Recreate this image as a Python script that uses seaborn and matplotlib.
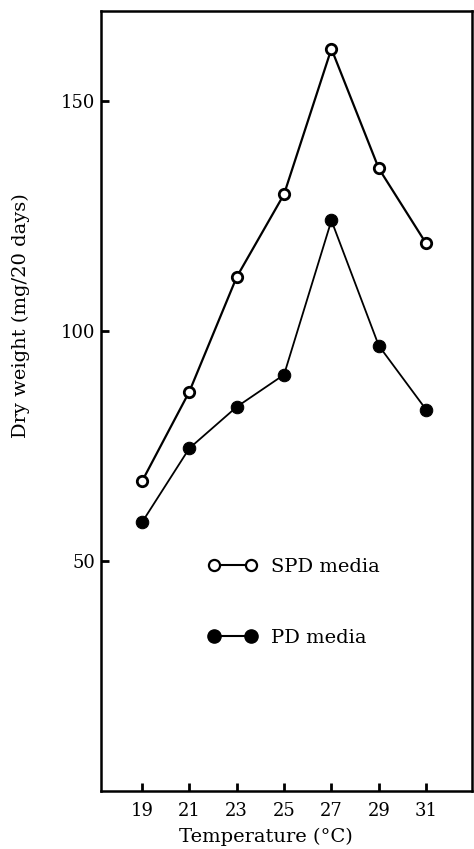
import matplotlib
matplotlib.use("Agg")
import matplotlib.pyplot as plt
import seaborn as sns
import pandas as pd
from matplotlib.lines import Line2D

temperature = [19, 21, 23, 25, 27, 29, 31]
spd_weight = [67.3, 86.8, 111.7, 129.7, 161.3, 135.3, 119.0]
pd_weight = [58.4, 74.5, 83.5, 90.5, 124.0, 96.8, 82.9]
x_ticks = [19, 21, 23, 25, 27, 29, 31]
y_ticks = [50, 100, 150]
series_names = ["SPD media", "PD media"]

sns.set_style("ticks")
plt.rcParams["font.family"] = ["DejaVu Serif"]
plt.rcParams["text.color"] = "black"
plt.rcParams["axes.labelcolor"] = "black"

df = pd.DataFrame({
    "Temperature": temperature * 2,
    "Dry weight": spd_weight + pd_weight,
    "Medium": [series_names[0]] * len(temperature) + [series_names[1]] * len(temperature),
})

fig = plt.figure(figsize=(4.74, 8.49), dpi=100)
ax = fig.add_axes([0.213, 0.068, 0.783, 0.919])

sns.lineplot(data=df[df["Medium"] == series_names[0]], x="Temperature", y="Dry weight",
             color="black", lw=1.6, marker="o", markersize=7.5, markerfacecolor="white",
             markeredgecolor="black", markeredgewidth=2, ax=ax, legend=False)
sns.lineplot(data=df[df["Medium"] == series_names[1]], x="Temperature", y="Dry weight",
             color="black", lw=1.3, marker="o", markersize=9, markerfacecolor="black",
             markeredgecolor="black", ax=ax, legend=False)

ax.set_xlim(17.27, 32.94)
ax.set_ylim(0, 169.5)
ax.set_xticks(x_ticks)
ax.set_yticks(y_ticks)
ax.tick_params(direction="in", length=6, width=2, labelsize=13, colors="black")
ax.tick_params(axis="x", pad=8)
ax.tick_params(axis="y", pad=4)
for s in ax.spines.values():
    s.set_linewidth(1.8)
    s.set_color("black")

ax.set_xlabel("Temperature (°C)", fontsize=14)
ax.set_ylabel("Dry weight (mg/20 days)", fontsize=14)
ax.xaxis.set_label_coords(0.445, -0.047)
ax.yaxis.set_label_coords(-0.191, 0.61)

handles = [
    Line2D([0], [0], color="black", lw=1.5, marker="o", markersize=8,
           markerfacecolor="white", markeredgecolor="black", markeredgewidth=1.6),
    Line2D([0], [0], color="black", lw=1.5, marker="o", markersize=9.5,
           markerfacecolor="black", markeredgecolor="black"),
]
leg = ax.legend(handles, series_names, loc="upper left", bbox_to_anchor=(0.243, 0.322),
                frameon=False, fontsize=14, numpoints=2, handlelength=2.46,
                labelspacing=2.75, handletextpad=0.74)
for t in leg.get_texts():
    t.set_color("black")

fig.savefig("out.png", dpi=100)
